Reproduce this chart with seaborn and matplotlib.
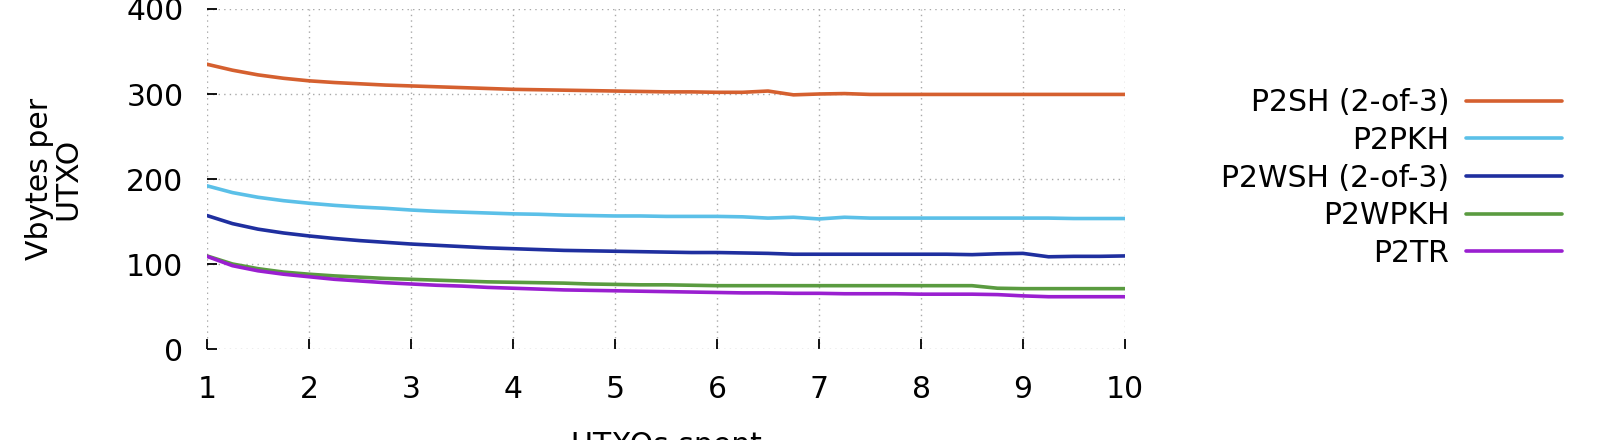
import numpy as np
import pandas as pd
import matplotlib
matplotlib.use("Agg")
import matplotlib.pyplot as plt
import seaborn as sns

utxos = [1, 1.25, 1.5, 1.75, 2, 2.25, 2.5, 2.75, 3, 3.25, 3.5, 3.75, 4, 4.25, 4.5, 4.75,
         5, 5.25, 5.5, 5.75, 6, 6.25, 6.5, 6.75, 7, 7.25, 7.5, 7.75, 8, 8.25, 8.5, 8.75,
         9, 9.25, 9.5, 9.75, 10]

p2sh = [335, 328, 322.5, 318.5, 315.5, 313.5, 312, 310.5, 309.5, 308.5, 307.5, 306.5,
        305.5, 305, 304.5, 304, 303.5, 303, 302.5, 302.5, 302, 302, 303.5, 299, 300,
        300.5, 299.5, 299.5, 299.5, 299.5, 299.5, 299.5, 299.5, 299.5, 299.5, 299.5, 299.5]
p2pkh = [192, 184, 178.5, 174.5, 171.5, 169, 167, 165.5, 163.5, 162, 161, 160,
         159, 158.5, 157.5, 157, 156.5, 156.5, 156, 156, 156, 155.5, 154, 155, 153,
         155, 154, 154, 154, 154, 154, 154, 154, 154, 153.5, 153.5, 153.5]
p2wsh = [157, 147.5, 141, 136.5, 133, 130, 127.5, 125.5, 123.5, 122, 120.5, 119,
         118, 117, 116, 115.5, 115, 114.5, 114, 113.5, 113.5, 113, 112.5, 111.5, 111.5,
         111.5, 111.5, 111.5, 111.5, 111.5, 111, 112, 112.5, 108.5, 109, 109, 109.5]
p2wpkh = [109.5, 100, 94.5, 90.5, 88, 86, 84.5, 83, 82, 81, 80, 79,
          78.5, 78, 77.5, 76.5, 76, 75.5, 75.5, 75, 74.5, 74.5, 74.5, 74.5, 74.5,
          74.5, 74.5, 74.5, 74.5, 74.5, 74.5, 71.5, 71, 71, 71, 71, 71]
p2tr = [109, 98, 92, 88, 85, 82, 80, 78, 76.5, 75, 74, 72.5,
        71.5, 70.5, 69.5, 69, 68.5, 68, 67.5, 67, 66.5, 66, 66, 65.5, 65.5,
        65, 65, 65, 64.5, 64.5, 64.5, 64, 62.5, 61.5, 61.5, 61.5, 61.5]

series_names = ["P2SH (2-of-3)", "P2PKH", "P2WSH (2-of-3)", "P2WPKH", "P2TR"]
series_values = [p2sh, p2pkh, p2wsh, p2wpkh, p2tr]
colors = ["#D5602F", "#5BC0E8", "#1F2F9F", "#5A9B40", "#9A1FD0"]
x_ticks = [1, 2, 3, 4, 5, 6, 7, 8, 9, 10]
y_ticks = [0, 100, 200, 300, 400]

rows = []
for name, vals in zip(series_names, series_values):
    for xv, yv in zip(utxos, vals):
        rows.append({"UTXOs spent": xv, "Vbytes": yv, "type": name})
df = pd.DataFrame(rows)

sns.set_style("white")
plt.rcParams["font.family"] = ["DejaVu Sans"]
plt.rcParams["text.color"] = "black"
plt.rcParams["axes.labelcolor"] = "black"
FS = 21.5

fig = plt.figure(figsize=(16, 4.4), dpi=100)
ax = fig.add_axes([207 / 1600, 1 - 349 / 440, 918 / 1600, 340 / 440])

sns.lineplot(data=df, x="UTXOs spent", y="Vbytes", hue="type",
             hue_order=series_names, palette=colors, linewidth=2.6,
             ax=ax, legend=True)

ax.set_xlim(1, 10)
ax.set_ylim(0, 400)
ax.set_xticks(x_ticks)
ax.set_yticks(y_ticks)
for s in ax.spines.values():
    s.set_visible(False)
ax.grid(True, color="#a8a8a8", linestyle=(0, (1, 3)), linewidth=1.0)
ax.tick_params(axis="both", direction="in", length=7.5, width=1.3, color="black",
               labelsize=FS, labelcolor="black")
ax.tick_params(axis="y", left=True, right=False, pad=17)
ax.tick_params(axis="x", bottom=True, top=False, pad=19)

ax.set_ylabel("Vbytes per\nUTXO", fontsize=FS, color="black", linespacing=0.95)
ax.yaxis.set_label_coords(-0.136, 0.5)
ax.set_xlabel("UTXOs spent", fontsize=FS, color="black")
ax.xaxis.set_label_coords(0.5, -0.24)

handles, labels = ax.get_legend_handles_labels()
ax.legend(handles, labels, loc="center right", bbox_to_anchor=(1562 / 1600, 1 - 178 / 440),
          bbox_transform=fig.transFigure, frameon=False, markerfirst=False,
          fontsize=FS, handlelength=3.2, handletextpad=0.57, labelspacing=0.29,
          borderpad=0, borderaxespad=0)

fig.savefig("out.png", dpi=100)
